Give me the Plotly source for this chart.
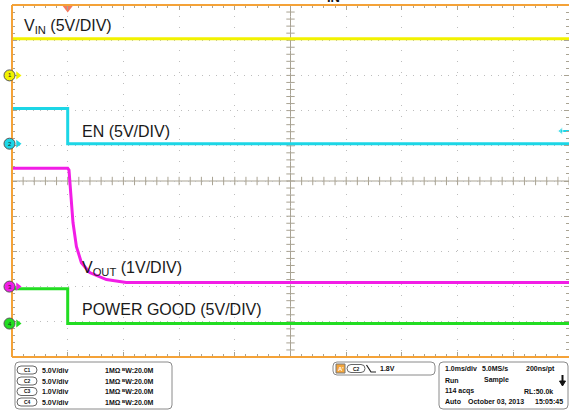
import numpy as np
import plotly.graph_objects as go

# ---------------- data ----------------
# time in ms, 1.0 ms/div, t = 0 at the trigger
vin_t = [-1.0, 9.0]
vin_v = [5.2, 5.2]

en_t = [-1.0, 0.0, 0.0, 9.0]
en_v = [5.0, 5.0, 0.0, 0.0]

vout_t = [-1.0, 0.0, 0.023, 0.066, 0.095, 0.156, 0.246, 0.395, 0.695, 1.05, 9.0]
vout_v = [3.36, 3.36, 3.31, 2.47, 1.82, 1.14, 0.68, 0.40, 0.20, 0.12, 0.12]

pg_t = [-1.0, 0.0, 0.0, 9.0]
pg_v = [4.95, 4.95, 0.0, 0.0]

channel_ids = ["1", "2", "3", "4"]
channel_names = ["C1", "C2", "C3", "C4"]
volts_per_div = [5.0, 5.0, 1.0, 5.0]
offset_div = [3.0, 1.06, -3.0, -4.05]
channel_colors = ["#F2F200", "#1CD6E6", "#F21DE6", "#22DD22"]
channel_labels = ["V<sub>IN</sub> (5V/DIV)", "EN (5V/DIV)",
                  "V<sub>OUT</sub> (1V/DIV)", "POWER GOOD (5V/DIV)"]
scale_text = ["5.0V/div", "5.0V/div", "1.0V/div", "5.0V/div"]
trigger_level_v = 1.8
trigger_time = 0.0

# ---------------- layout geometry ----------------
W, H = 569, 410
L, T, R, B = 12, 5, 0, 53
PW, PH = W - L - R, H - T - B
XR = [-1, 9]
YR = [-5, 5]

def px(x):
    return (x - L) / PW

def py(y):
    return (T + PH - y) / PH

def tx(xp):  # pixel -> time
    return XR[0] + (xp - L) / PW * (XR[1] - XR[0])

ORANGE = "#F4A238"
TICK = "#A9A393"
GRID = "#BDBDBD"
FONT = "Liberation Sans, Arial, sans-serif"

fig = go.Figure()

# crosshair minor ticks
xt = np.arange(XR[0], XR[1] + 1e-9, 0.2)
yt = np.arange(YR[0], YR[1] + 1e-9, 0.2)
fig.add_trace(go.Scatter(x=xt, y=np.zeros_like(xt), mode="markers",
                         marker=dict(symbol="line-ns", size=6, line=dict(color=TICK, width=1)),
                         hoverinfo="skip", showlegend=False))
fig.add_trace(go.Scatter(x=np.full_like(yt, 4.0), y=yt, mode="markers",
                         marker=dict(symbol="line-ew", size=6, line=dict(color=TICK, width=1)),
                         hoverinfo="skip", showlegend=False))

series = [(vin_t, vin_v), (en_t, en_v), (vout_t, vout_v), (pg_t, pg_v)]
for i, (t, v) in enumerate(series):
    y = [offset_div[i] + vv / volts_per_div[i] for vv in v]
    fig.add_trace(go.Scatter(x=t, y=y, mode="lines",
                             line=dict(color=channel_colors[i], width=3),
                             hoverinfo="skip", showlegend=False, name=channel_names[i]))

# channel ground markers (triangles)
fig.add_trace(go.Scatter(x=[tx(18)] * 4, y=offset_div, mode="markers",
                         marker=dict(symbol="triangle-right", size=7, color=channel_colors),
                         cliponaxis=False, hoverinfo="skip", showlegend=False))

# trigger position marker (top) and trigger level marker (right)
fig.add_trace(go.Scatter(x=[trigger_time], y=[YR[1] - 3 / PH * 10], mode="markers",
                         marker=dict(symbol="triangle-down", size=9, color="#F47A5E"),
                         cliponaxis=False, hoverinfo="skip", showlegend=False))
lvl = offset_div[1] + trigger_level_v / volts_per_div[1]
fig.add_trace(go.Scatter(x=[tx(561), XR[1]], y=[lvl, lvl], mode="lines+markers",
                         line=dict(color=channel_colors[1], width=2),
                         marker=dict(symbol="triangle-left", size=[7, 0], color=channel_colors[1]),
                         cliponaxis=False, hoverinfo="skip", showlegend=False))

shapes = []
annotations = []
# crosshair
shapes.append(dict(type="line", xref="x", yref="paper", x0=4, x1=4, y0=0, y1=1,
                   line=dict(color=TICK, width=1), layer="between"))
shapes.append(dict(type="line", xref="paper", yref="y", x0=0, x1=1, y0=0, y1=0,
                   line=dict(color=TICK, width=1), layer="between"))
# orange border
for (x0, y0, x1, y1) in [(0, 0, 0, 1), (0, 1, 1, 1), (0, 0, 1, 0)]:
    shapes.append(dict(type="line", xref="paper", yref="paper", x0=x0, y0=y0, x1=x1, y1=y1,
                       line=dict(color=ORANGE, width=2), layer="above"))

# channel ground circles with numbers
for i in range(4):
    shapes.append(dict(type="circle", xref="paper", yref="y",
                       xsizemode="pixel", ysizemode="pixel",
                       xanchor=px(9.5), yanchor=offset_div[i],
                       x0=-5.5, x1=5.5, y0=-5.5, y1=5.5,
                       fillcolor=channel_colors[i], line=dict(color="#555", width=1),
                       layer="above"))
    annotations.append(dict(xref="paper", yref="y", x=px(9.5), y=offset_div[i],
                            text=channel_ids[i], showarrow=False,
                            xanchor="center", yanchor="middle",
                            font=dict(size=6, color="#222", family=FONT)))


def rrect(x0, y0, x1, y1, r, line="#8A8A8A", fill="rgba(0,0,0,0)", width=1):
    rx, ry = r / PW, r / PH
    a0, a1 = px(x0), px(x1)
    b0, b1 = py(y0), py(y1)  # b0 top (larger), b1 bottom
    p = (f"M{a0+rx},{b0} L{a1-rx},{b0} Q{a1},{b0} {a1},{b0-ry} "
         f"L{a1},{b1+ry} Q{a1},{b1} {a1-rx},{b1} L{a0+rx},{b1} "
         f"Q{a0},{b1} {a0},{b1+ry} L{a0},{b0-ry} Q{a0},{b0} {a0+rx},{b0} Z")
    return dict(type="path", xref="paper", yref="paper", path=p,
                line=dict(color=line, width=width), fillcolor=fill, layer="above")


# bottom info boxes
shapes.append(rrect(15, 362, 172, 409, 4))
shapes.append(rrect(333, 362, 435, 375, 4))
shapes.append(rrect(439, 362, 568, 409, 4))


def note(x, y, text, size=7, color="#111", anchor="left", bold=True, family=FONT):
    annotations.append(dict(xref="paper", yref="paper", x=px(x), y=py(y),
                            text=(f"<b>{text}</b>" if bold else text), showarrow=False,
                            xanchor=anchor, yanchor="middle",
                            font=dict(size=size, color=color, family=family)))


rows_y = [370, 381, 391.5, 402]
for i in range(4):
    shapes.append(rrect(17, rows_y[i] - 4, 37, rows_y[i] + 4, 4, line="#666"))
    note(27, rows_y[i], channel_names[i], size=5, anchor="center")
    note(40, rows_y[i], scale_text[i])
    note(103, rows_y[i], "1MΩ")
    note(120, rows_y[i], "ᴮW:20.0M")

# trigger box
shapes.append(dict(type="rect", xref="paper", yref="paper", x0=px(336), x1=px(345),
                   y0=py(373), y1=py(364), fillcolor="#F3A53C",
                   line=dict(color="#777", width=1), layer="above"))
note(340.5, 368.5, "A'", size=6, color="white", anchor="center")
shapes.append(rrect(347, 364.5, 365, 372.5, 4, line="#666"))
note(356, 368.5, "C2", size=5, anchor="center")
shapes.append(dict(type="path", xref="paper", yref="paper",
                   path=f"M{px(366.5)},{py(365)} L{px(371)},{py(372)} L{px(376)},{py(372)}",
                   line=dict(color="#222", width=1.2), layer="above"))
note(378, 368.5, f"{trigger_level_v}V")

# acquisition box
note(443, 368.5, "1.0ms/div")
note(480, 368.5, "5.0MS/s")
note(557, 368.5, "200ns/pt", anchor="right")
note(443, 380, "Run")
note(482, 380, "Sample")
note(443, 391, "114 acqs")
note(555, 391, "RL:50.0k", anchor="right")
note(443, 401.5, "Auto")
note(466, 401.5, "October 03, 2013")
note(565, 401.5, "15:05:45", anchor="right")
shapes.append(dict(type="line", xref="paper", yref="paper", x0=px(562.5), x1=px(562.5),
                   y0=py(375), y1=py(382), line=dict(color="#111", width=2), layer="above"))
shapes.append(dict(type="path", xref="paper", yref="paper",
                   path=f"M{px(559.5)},{py(381)} L{px(565.5)},{py(381)} L{px(562.5)},{py(386)} Z",
                   fillcolor="#111", line=dict(color="#111", width=1), layer="above"))

# channel labels
label_pos = [(22, 26), (80, 131), (80, 268), (80, 309)]
for (x, y), lab in zip(label_pos, channel_labels):
    note(x, y, lab, size=16, color="#1A1A1A", bold=False)

# clipped title fragment at very top
annotations.append(dict(xref="paper", yref="paper", x=px(333), y=py(7), text="<b>IN</b>",
                        showarrow=False, xanchor="center", yanchor="bottom",
                        font=dict(size=13, color="#111", family=FONT)))

axis_common = dict(showticklabels=False, zeroline=False, showline=False,
                   ticks="inside", mirror="ticks", tickcolor=TICK, ticklen=5, tickwidth=1,
                   showgrid=True, gridcolor=GRID, gridwidth=1, fixedrange=True)

fig.update_layout(
    width=W, height=H, autosize=False,
    margin=dict(l=L, r=R, t=T, b=B, pad=0),
    paper_bgcolor="white", plot_bgcolor="white",
    xaxis=dict(range=XR, dtick=1, tick0=-1, griddash="1px,10.14px",
               minor=dict(dtick=0.2, tick0=-1, ticks="inside", ticklen=3,
                          tickcolor=TICK, showgrid=False), **axis_common),
    yaxis=dict(range=YR, dtick=1, tick0=0, griddash="1px,6.04px",
               minor=dict(dtick=0.2, tick0=0, ticks="inside", ticklen=3,
                          tickcolor=TICK, showgrid=False), **axis_common),
    shapes=shapes, annotations=annotations, showlegend=False, hovermode=False,
)

fig.write_html("out.html", config={"displayModeBar": False, "staticPlot": True},
               post_script="document.body.style.margin='0px';")
